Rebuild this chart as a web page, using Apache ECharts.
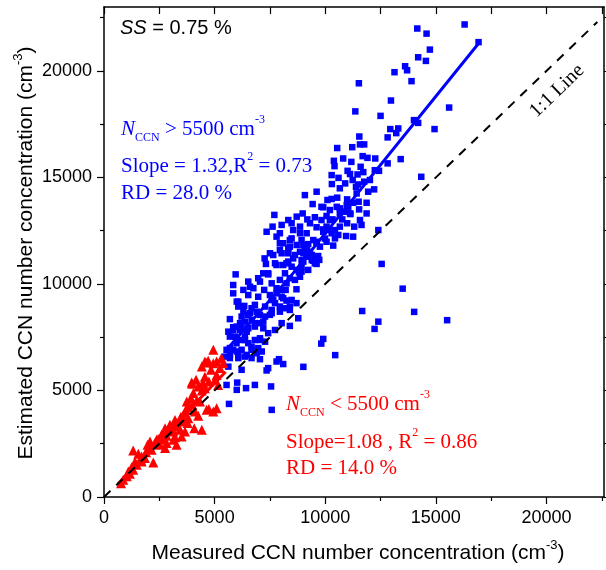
<!DOCTYPE html>
<html>
<head>
<meta charset="utf-8">
<script src="https://cdn.jsdelivr.net/npm/echarts@6/dist/echarts.min.js"></script>
<style>
html,body{margin:0;padding:0;background:#fff;}
#chart{width:606px;height:570px;}
</style>
</head>
<body>
<div id="chart"></div>
<script>
// ---- Data ----
const xMajorTicks = [0, 5000, 10000, 15000, 20000];
const xMinorTicks = [2500, 7500, 12500, 17500, 22500];
const xAllTicks = [0, 2500, 5000, 7500, 10000, 12500, 15000, 17500, 20000, 22500];
const yMajorTicks = [0, 5000, 10000, 15000, 20000];
const yMinorTicks = [2500, 7500, 12500, 17500, 22500];
const yAllTicks = [0, 2500, 5000, 7500, 10000, 12500, 15000, 17500, 20000, 22500];

// N_CCN > 5500 cm-3 (blue squares)
const bluePoints = [
[12550,10940],[13500,9780],[11670,8730],[14020,8690],[15510,8300],[12400,8230],[12230,7890],[9910,7420],[9820,7200],[10450,6660],[9010,6110],
[14160,21990],[14580,21750],[16300,22180],[16930,21350],[14730,21000],[14200,20640],[14550,20470],[13610,20220],[13700,20030],[13900,19520],[15600,18280],[14010,17690],[14200,17560],[14940,17270],
[13130,19940],[11520,19420],[12970,18610],[11360,18100],[12500,17890],[12940,17270],[13300,17300],[13210,17080],[12820,16880],[11540,16920],[10540,16380],[11220,16420],[11570,16550],[11760,16550],[10390,15780],[10420,15530],[10810,15890],[11180,15730],[11690,16000],[11910,15920],[12260,15890],[13410,15860],[12820,15660],[12430,15310],[14340,15030],[11010,15310],[11120,15160],[11460,15140],[11720,15250],[10600,14980],[10900,14720],[11240,14880],[11490,14670],[11760,14800],[10290,15110],[10300,14690],
[11600,15500],[11390,14560],[11940,14330],[12210,14440],[9610,14330],[10100,13940],[10290,13990],[10540,14050],[10990,13970],[11260,13810],[11510,13860],[11870,13810],[9080,14170],[9430,13750],[9910,13600],[10210,13470],[10660,13550],[10860,13390],[11140,13280],[11530,13500],[7700,13240],[8330,13000],[8710,13160],[8980,13310],[9190,13030],[9530,13130],[9830,13000],[10060,13190],[10330,13030],[10770,13030],[10990,12850],[11310,12690],[11640,12770],[7350,12450],[7620,12690],[8030,12770],[8480,12850],[8860,12690],[9310,12850],[9610,12660],[9910,12560],[10210,12530],[10590,12300],[10940,12250],[11260,12220],[7800,12220],[8100,11910],[8480,12140],[8710,11830],[8930,12060],[9150,11780],[9460,12060],[9760,11750],[10060,11980],[10440,12140],[7950,11590],[8330,11440],[8860,11510],[9310,11510],[9680,11310],[7650,11360],[8550,11200],[9010,11050],[9460,11090],[7730,10970],[8100,10890],[7260,11200],[12400,12530],
[9230,11870],[9010,11440],[9150,11280],[9390,11360],[9610,10940],[8930,10580],[8860,10340],[10360,11800],[9990,12130],
[5950,10450],[5840,9950],[7320,10940],[7420,10450],[8250,10970],[8630,11360],[8930,11120],[9390,11120],[8810,10550],[6970,10270],[7580,10030],[7950,10190],[8400,10270],[6750,9800],[7240,9720],[7800,9800],[8210,9720],[8700,9750],[6520,9480],[6970,9400],[7500,9480],[8030,9400],[8480,9250],[6070,9170],[6340,8970],[6820,9020],[7280,8940],[7730,9100],[8150,8860],[8700,9100],[5690,8350],[6220,8470],[6600,8630],[7050,8550],[7500,8550],[7950,8700],[8780,8390],[5840,7970],[6150,7840],[6520,7920],[6820,8160],[7200,7920],[7050,7450],[6370,7530],[6000,7370],[5690,6990],[6000,6830],[6220,6910],[6450,6670],[6670,6910],[5690,6520],[6070,6520],[6970,6990],[7050,6470],[8400,8030],[7800,6360],[7910,6470],[8100,6240],[7420,6050],[7350,5940],[5620,6120],[6220,5970],[5540,5260],[6000,5030],[6420,5110],[6820,5260],[7550,5190],[5650,4370],[7580,4090],[6020,5370],
[9530,10970],[9730,11130],[8400,8780],[8250,9220],
[6600,9870],[7420,10500],[7800,10890],[7500,11440],[7950,11910],[8330,11050],[8710,10660],[8630,10190],[8250,10030],[7950,9720],[7650,9250],[6900,8700],[6520,8550],[6150,8160],[5840,7840],[5690,7530],[6450,7760],[6820,8000],[7200,8230],[7580,8630],[7950,8940],[5990,7220],[6370,7370],[6670,7060],[7050,7370],[5690,6670],[7130,6830],[8400,12060],[8860,12380],[9160,11590],[9610,11980],[9910,12450],[10210,13000],[10660,13310],[11040,13550],[10290,12380],[8930,10810],
[6070,8940],[6300,8700],[6670,8860],[6370,8230],[6670,8310],[6000,8000],[5920,7530],[6220,7370],[6520,7220],[6820,7370],[7280,7290],[5840,6910],[6070,6670],[6370,6590],[6670,6520],[6900,6750],[5470,6590],[5540,6910],[7580,9250],[7800,9560],[8100,9330],[8400,8940],[7280,8470],[7050,8160],[8030,8160],[7730,7840],[7420,7690],[8180,10500],[8480,10810],[8030,11440],[8330,11670],[9080,11590],[9230,10660],[7200,10500],[7050,10110],[6520,10110],[6300,9720],[5840,9560],[6000,9170],[5620,7760],[6220,7920],[7580,8780],
[8550,12530],[9160,12380],[7950,12380],[8400,11750],[9010,11830],[9610,11910],[10660,12690],[11120,13310],[11570,13000],[11870,13310],[10060,12690],[10440,12530],[9830,13620],[10520,13620],[10970,13700],[11420,14250],[10660,14490],[12020,14880],[12240,15340]
];

// N_CCN < 5500 cm-3 (red triangles)
const redPoints = [
[770,650],[870,810],[1030,970],[1170,1090],[1100,1200],[1320,1280],[1320,2180],[1550,2030],[1480,1510],[1670,1750],[1700,1900],[1850,1830],[2230,1620],[1970,2450],[2080,2610],[2300,2530],[2450,2720],[2150,2220],[2530,2450],[2720,3000],[2760,3230],[2830,2530],[3130,2690],[3210,2810],[3280,2450],[3510,2840],[3660,3080],[2980,3390],[3210,3620],[3510,3540],[3780,3470],[3470,3750],[4080,3230],[4420,3160],[3660,3970],[3810,4220],[3990,4330],[3740,4480],[3930,4640],[4190,4530],[4040,4880],[4340,4480],[4420,5000],[4260,5190],[4560,5110],[3990,5310],[4490,5340],[4640,4090],[4740,4130],[5090,4170],[4940,4010],[4560,5650],[4840,5970],[4940,6280],[4560,6360],[4940,6910],[5090,5730],[5240,6050],[5310,6520],[5020,5500],[4740,5420],[5390,6280],[5160,5260],[3130,3080],[2380,2690],[2600,2920],[2830,2870],[3430,3160],[3360,3310],[3810,3700],[4110,4010],[4260,3810],[2760,2300],[1700,1670],[4420,6120],[4710,6400],[4610,6310],[5090,6360],[3960,5370],[4160,5500],[4420,5260],
[1250,1400],[1400,1650],[1900,2100],[2000,2300],[2400,2500],[2650,2700],[3000,3100],[3300,3400],[3550,3800],[3700,4100]
];

// Fitted lines and 1:1 reference
const blueFit = [[5600,6980],[8450,10380],[16900,21250]];
const redFit = [[630,620],[5500,5880]];
const oneToOne = [[0,0],[22300,22300]];

const X_MAX = 22600, Y_MAX = 23000;

// ---- Chart ----
const ARIAL = "Arial, 'Liberation Sans', sans-serif";
const TIMES = "'Times New Roman', 'Liberation Serif', serif";
const chart = echarts.init(document.getElementById('chart'), null, {renderer: 'canvas'});

const gridBox = {left: 104, right: 2, top: 7, bottom: 73};
const black = '#000';
const plain = v => String(v);

function baseAxis(extra) {
  return Object.assign({
    type: 'value', min: 0, splitLine: {show: false},
    axisLine: {show: false, onZero: false, lineStyle: {color: black, width: 1.5}},
    axisTick: {show: true, lineStyle: {color: black, width: 1.2}},
    axisLabel: {show: false},
    minorTick: {show: false}
  }, extra);
}

function rs(family, size, color, extra) {
  return Object.assign({fontFamily: family, fontSize: size, fill: color, color: color}, extra || {});
}

const BLUE = '#0000ff', RED = '#ff0000';

function nLine(color, sign) {
  return {
    text: '{i|N}{sub|CCN}{n| ' + sign + ' 5500 cm}{sup|-3}',
    rich: {
      i: rs(TIMES, 21, color, {fontStyle: 'italic', lineHeight: 30}),
      sub: rs(TIMES, 12, color, {lineHeight: 12, verticalAlign: 'bottom'}),
      n: rs(TIMES, 21, color, {lineHeight: 30}),
      sup: rs(TIMES, 12, color, {lineHeight: 18, verticalAlign: 'top'})
    }
  };
}
function slopeLine(color, a, b) {
  return {
    text: '{n|' + a + '}{sup|2}{n|' + b + '}',
    rich: {
      n: rs(TIMES, 21, color, {lineHeight: 30}),
      sup: rs(TIMES, 12, color, {lineHeight: 18, verticalAlign: 'top'})
    }
  };
}
function txt(x, y, st, extra) {
  return Object.assign({type: 'text', x: x, y: y, z: 100,
    style: Object.assign({align: 'left', textAlign: 'left', verticalAlign: 'middle', textVerticalAlign: 'middle'}, st)}, extra || {});
}

const option = {
  animation: false,
  backgroundColor: '#fff',
  grid: [Object.assign({}, gridBox), Object.assign({}, gridBox)],
  xAxis: [
    baseAxis({gridIndex: 0, position: 'bottom', max: X_MAX,
      axisLine: {show: true, onZero: false, lineStyle: {color: black, width: 1.5}},
      axisTick: {show: true, length: 7, inside: false, customValues: xMajorTicks, lineStyle: {color: black, width: 1.2}},
      axisLabel: {show: true, customValues: xMajorTicks, formatter: plain, margin: 12, fontSize: 18, fontFamily: ARIAL, color: black}}),
    baseAxis({gridIndex: 0, position: 'top', max: X_MAX,
      axisLine: {show: true, onZero: false, lineStyle: {color: black, width: 1.5}},
      axisTick: {show: true, length: 7, inside: true, customValues: xAllTicks, lineStyle: {color: black, width: 1.2}}}),
    baseAxis({gridIndex: 1, position: 'bottom', max: X_MAX,
      axisTick: {show: true, length: 4, inside: false, customValues: xMinorTicks, lineStyle: {color: black, width: 1.2}}})
  ],
  yAxis: [
    baseAxis({gridIndex: 0, position: 'left', max: Y_MAX,
      axisLine: {show: true, onZero: false, lineStyle: {color: black, width: 1.5}},
      axisTick: {show: true, length: 7, inside: false, customValues: yMajorTicks, lineStyle: {color: black, width: 1.2}},
      axisLabel: {show: true, customValues: yMajorTicks, formatter: plain, margin: 12, fontSize: 18, fontFamily: ARIAL, color: black}}),
    baseAxis({gridIndex: 0, position: 'right', max: Y_MAX,
      axisLine: {show: true, onZero: false, lineStyle: {color: black, width: 1.5}},
      axisTick: {show: true, length: 5, inside: false, customValues: yAllTicks, lineStyle: {color: black, width: 1.2}}}),
    baseAxis({gridIndex: 1, position: 'left', max: Y_MAX,
      axisTick: {show: true, length: 4, inside: false, customValues: yMinorTicks, lineStyle: {color: black, width: 1.2}}})
  ],
  series: [
    {type: 'scatter', name: 'high', xAxisIndex: 0, yAxisIndex: 0, data: bluePoints,
     symbol: 'rect', symbolSize: 6.5, itemStyle: {color: BLUE, opacity: 1}, z: 2},
    {type: 'line', name: 'redFit', xAxisIndex: 0, yAxisIndex: 0, data: redFit, showSymbol: false, symbol: 'none',
     lineStyle: {color: RED, width: 3}, z: 3},
    {type: 'scatter', name: 'low', xAxisIndex: 0, yAxisIndex: 0, data: redPoints,
     symbol: 'triangle', symbolSize: 10, itemStyle: {color: RED, opacity: 1}, z: 4},
    {type: 'line', name: 'blueFit', xAxisIndex: 0, yAxisIndex: 0, data: blueFit, showSymbol: false, symbol: 'none',
     lineStyle: {color: BLUE, width: 3}, z: 5},
    {type: 'line', name: 'oneToOne', xAxisIndex: 0, yAxisIndex: 0, data: oneToOne, showSymbol: false, symbol: 'none',
     lineStyle: {color: black, width: 2, type: [9, 8]}, z: 6}
  ],
  graphic: [
    txt(120, 28, {text: '{i|SS}{n| = 0.75 %}',
      rich: {i: rs(ARIAL, 20, black, {fontStyle: 'italic'}), n: rs(ARIAL, 20, black)}}),
    txt(121, 129, nLine(BLUE, '>')),
    txt(121, 166, slopeLine(BLUE, 'Slope = 1.32,R', ' = 0.73')),
    txt(121, 193, {text: 'RD = 28.0 %', font: '21px ' + TIMES, fill: BLUE}),
    txt(286, 404, nLine(RED, '<')),
    txt(286, 442, slopeLine(RED, 'Slope=1.08 , R', ' = 0.86')),
    txt(286, 468, {text: 'RD = 14.0 %', font: '21px ' + TIMES, fill: RED}),
    txt(557, 91, {text: '1:1 Line', align: 'center', textAlign: 'center', font: '20px ' + TIMES, fill: black},
        {rotation: 44 * Math.PI / 180}),
    txt(358, 553, {text: '{n|Measured CCN number concentration (cm}{sup|-3}{n|)}', align: 'center', textAlign: 'center',
      rich: {n: rs(ARIAL, 21, black, {lineHeight: 28}), sup: rs(ARIAL, 13, black, {lineHeight: 16, verticalAlign: 'top'})}}),
    txt(26, 253, {text: '{n|Estimated CCN number concentration (cm}{sup|-3}{n|)}', align: 'center', textAlign: 'center',
      rich: {n: rs(ARIAL, 21, black, {lineHeight: 28}), sup: rs(ARIAL, 13, black, {lineHeight: 16, verticalAlign: 'top'})}},
        {rotation: Math.PI / 2})
  ]
};
chart.setOption(option);
</script>
</body>
</html>
